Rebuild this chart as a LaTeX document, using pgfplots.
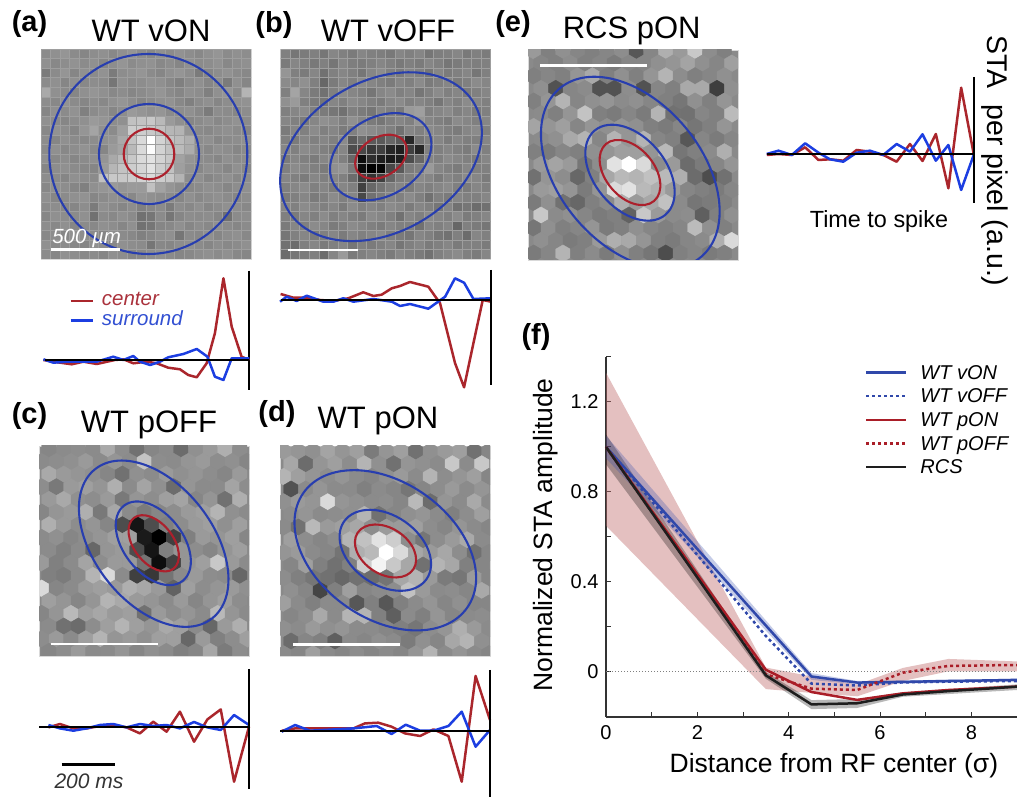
\documentclass[border=0pt]{standalone}
\usepackage{fontspec}
\setmainfont{Liberation Sans}
\usepackage{pgfplots}
\pgfplotsset{compat=1.18}
\newcommand\fs[1]{\fontsize{#1}{#1}\selectfont}
\definecolor{tred}{RGB}{170,38,44}
\definecolor{tblue}{RGB}{28,62,225}
\definecolor{eblue}{RGB}{40,62,175}
\definecolor{ered}{RGB}{172,32,44}
\definecolor{gridc}{RGB}{158,158,158}
\definecolor{band}{RGB}{190,105,105}
\definecolor{lblue}{RGB}{48,72,170}
\definecolor{lred}{RGB}{170,30,40}
\definecolor{lblack}{RGB}{30,30,30}
\definecolor{panelbg}{RGB}{138,138,138}
\pgfdeclareplotmark{hexa}{%
\pgfpathmoveto{\pgfqpoint{0pt}{8.47pt}}\pgfpathlineto{\pgfqpoint{7.33pt}{4.23pt}}%
\pgfpathlineto{\pgfqpoint{7.33pt}{-4.23pt}}\pgfpathlineto{\pgfqpoint{0pt}{-8.47pt}}%
\pgfpathlineto{\pgfqpoint{-7.33pt}{-4.23pt}}\pgfpathlineto{\pgfqpoint{-7.33pt}{4.23pt}}%
\pgfpathclose\pgfusepathqfillstroke}
\pgfdeclareplotmark{cell}{%
\pgfpathrectangle{\pgfqpoint{-4.773pt}{-4.773pt}}{\pgfqpoint{9.545pt}{9.545pt}}\pgfusepathqfillstroke}
\pgfplotsset{
 imgpanel/.style={anchor=north west,scale only axis,width=210pt,height=210pt,ticks=none,
   y dir=reverse,axis line style={draw=gray!30,line width=0.6pt},clip marker paths=true,
   axis background/.style={fill=panelbg},
   colormap={gr}{gray(0)=(0); gray(100)=(1)},point meta min=0,point meta max=100},
 trace/.style={anchor=origin,x=0.2667pt,y=1pt,hide axis,clip=false,xmin=-800,xmax=0,ymin=-90,ymax=90},
 tr/.style={tred,line width=2.5pt,line join=round},
 tb/.style={tblue,line width=2.5pt,line join=round},
 tk/.style={black,line width=2pt},
}
\newcommand\gridtable[1]{\addplot[scatter,only marks,mark=cell,point meta=explicit,line width=0.3pt,
  scatter/use mapped color={draw=gridc,fill=mapped color}]
  table[row sep=crcr,header=false,x expr={\coordindex-22*floor((\coordindex+0.5)/22)},y expr={floor((\coordindex+0.5)/22)},meta index=0]{#1};}
\newcommand\hextable[3]{\addplot[scatter,only marks,mark=hexa,point meta=explicit,line width=0.3pt,
  scatter/use mapped color={draw=mapped color,fill=mapped color}]
  table[row sep=crcr,header=false,x expr={#1+44*(\coordindex-16*floor((\coordindex+0.5)/16))+22*(floor((\coordindex+0.5)/16)-2*floor((\coordindex+0.5)/32))},
  y expr={#2+38*floor((\coordindex+0.5)/16)},meta index=0]{#3};}
\begin{document}
\begin{tikzpicture}
\path[use as bounding box] (0pt,0pt) rectangle (1017pt,797pt);
% panel a image
\begin{axis}[imgpanel,at={(41pt,748pt)},xmin=-0.5,xmax=21.5,ymin=-0.5,ymax=21.5]
\gridtable{
54\\56\\58\\54\\52\\55\\56\\53\\56\\58\\55\\53\\56\\54\\57\\55\\53\\56\\58\\54\\56\\55\\
56\\53\\55\\57\\54\\56\\52\\55\\58\\54\\56\\57\\53\\55\\52\\56\\54\\55\\57\\53\\55\\56\\
48\\54\\58\\52\\56\\54\\57\\48\\55\\56\\58\\54\\52\\56\\58\\55\\48\\52\\55\\57\\54\\53\\
54\\56\\52\\56\\53\\55\\54\\46\\56\\54\\55\\57\\56\\53\\50\\54\\56\\52\\55\\48\\56\\52\\
66\\56\\54\\52\\56\\58\\56\\53\\55\\52\\54\\56\\58\\54\\52\\56\\55\\50\\56\\58\\54\\70\\
55\\53\\57\\54\\52\\55\\53\\56\\58\\55\\52\\54\\56\\57\\53\\50\\54\\56\\52\\55\\56\\57\\
52\\56\\54\\57\\50\\54\\56\\52\\55\\60\\58\\56\\58\\54\\55\\56\\53\\48\\55\\54\\52\\55\\
56\\54\\52\\55\\56\\60\\58\\55\\56\\75\\76\\78\\72\\60\\56\\52\\54\\56\\53\\55\\57\\54\\
53\\57\\55\\52\\58\\64\\56\\54\\62\\80\\80\\78\\75\\71\\70\\58\\54\\53\\55\\56\\54\\52\\
55\\52\\56\\54\\53\\55\\56\\58\\66\\76\\85\\100\\82\\76\\73\\68\\55\\56\\52\\54\\55\\56\\
54\\56\\53\\55\\57\\54\\52\\60\\64\\72\\85\\98\\82\\76\\73\\67\\56\\53\\56\\55\\52\\54\\
56\\53\\55\\52\\54\\56\\58\\66\\72\\78\\85\\88\\82\\78\\63\\58\\55\\54\\52\\56\\54\\55\\
52\\55\\56\\54\\53\\52\\60\\71\\76\\80\\83\\88\\80\\75\\62\\57\\53\\56\\55\\52\\56\\53\\
55\\54\\52\\56\\55\\54\\75\\78\\78\\80\\82\\85\\80\\78\\70\\55\\56\\52\\54\\56\\53\\55\\
53\\56\\55\\52\\50\\56\\58\\60\\58\\60\\60\\75\\63\\58\\55\\53\\54\\56\\55\\52\\55\\56\\
56\\52\\54\\56\\57\\52\\54\\56\\55\\53\\58\\56\\55\\54\\52\\56\\53\\55\\56\\54\\52\\55\\
54\\55\\53\\52\\55\\48\\56\\54\\52\\55\\50\\52\\54\\48\\55\\53\\56\\52\\54\\56\\55\\53\\
52\\56\\55\\54\\56\\44\\54\\53\\56\\54\\44\\46\\54\\46\\52\\55\\54\\55\\52\\44\\54\\55\\
55\\53\\56\\52\\54\\53\\56\\55\\52\\56\\44\\46\\52\\53\\56\\52\\55\\53\\56\\54\\52\\54\\
53\\55\\52\\56\\55\\54\\52\\56\\54\\53\\50\\52\\55\\56\\46\\54\\53\\56\\52\\55\\56\\53\\
56\\54\\55\\53\\52\\56\\55\\53\\56\\55\\54\\46\\53\\52\\55\\56\\54\\52\\55\\53\\54\\56\\
54\\52\\56\\55\\53\\54\\52\\56\\55\\52\\53\\55\\56\\54\\52\\53\\55\\56\\54\\56\\53\\52\\
}
\end{axis}
% panel b image
\begin{axis}[imgpanel,at={(280.5pt,748pt)},xmin=-0.5,xmax=21.5,ymin=-0.5,ymax=21.5]
\gridtable{
50\\46\\48\\50\\46\\52\\50\\48\\52\\50\\49\\47\\52\\50\\52\\46\\49\\50\\52\\47\\50\\48\\
48\\52\\50\\47\\50\\46\\52\\49\\48\\50\\52\\50\\47\\50\\48\\52\\50\\46\\48\\50\\49\\50\\
58\\50\\48\\52\\44\\50\\52\\50\\46\\52\\55\\50\\48\\52\\50\\46\\52\\48\\50\\52\\46\\50\\
54\\52\\56\\50\\40\\48\\52\\50\\54\\52\\50\\48\\52\\50\\54\\48\\50\\52\\48\\50\\54\\52\\
50\\64\\52\\48\\44\\50\\54\\52\\50\\46\\52\\54\\50\\52\\46\\50\\54\\50\\52\\48\\50\\52\\
56\\60\\50\\48\\46\\52\\50\\54\\52\\50\\48\\52\\54\\50\\52\\50\\46\\52\\50\\54\\52\\50\\
50\\52\\54\\50\\48\\46\\44\\50\\48\\46\\52\\50\\48\\60\\62\\50\\52\\54\\50\\52\\48\\50\\
52\\50\\48\\52\\56\\54\\50\\56\\52\\48\\46\\50\\52\\50\\58\\52\\50\\48\\54\\52\\50\\52\\
48\\52\\50\\54\\50\\52\\48\\50\\56\\54\\52\\50\\44\\52\\50\\54\\52\\50\\48\\52\\54\\50\\
50\\48\\52\\50\\52\\50\\54\\35\\42\\35\\35\\40\\35\\15\\45\\50\\52\\48\\52\\50\\50\\52\\
52\\50\\54\\52\\50\\48\\52\\30\\28\\22\\25\\15\\12\\25\\15\\50\\50\\52\\50\\48\\54\\50\\
48\\52\\50\\48\\52\\54\\50\\40\\5\\18\\12\\10\\12\\30\\40\\52\\50\\54\\52\\50\\48\\52\\
50\\54\\52\\50\\48\\56\\58\\48\\5\\0\\2\\28\\35\\48\\50\\60\\52\\50\\48\\52\\50\\50\\
52\\50\\48\\52\\50\\52\\50\\42\\25\\20\\25\\40\\48\\50\\54\\52\\48\\52\\50\\54\\52\\48\\
50\\52\\54\\50\\52\\48\\52\\50\\25\\40\\45\\50\\52\\48\\52\\50\\52\\54\\50\\48\\52\\50\\
48\\50\\52\\48\\50\\54\\50\\52\\28\\44\\48\\52\\50\\54\\50\\44\\50\\48\\52\\50\\50\\52\\
52\\50\\54\\52\\50\\52\\48\\54\\50\\52\\50\\54\\52\\48\\52\\50\\46\\52\\44\\46\\42\\44\\
50\\48\\52\\50\\54\\50\\52\\50\\48\\54\\52\\50\\44\\52\\50\\54\\52\\50\\54\\48\\50\\52\\
48\\52\\50\\54\\52\\48\\50\\54\\52\\50\\48\\52\\50\\50\\44\\52\\50\\52\\40\\50\\48\\46\\
46\\50\\52\\48\\50\\52\\48\\52\\50\\52\\54\\50\\48\\46\\52\\50\\46\\44\\50\\42\\52\\50\\
44\\42\\50\\52\\48\\50\\52\\46\\50\\48\\50\\52\\46\\50\\52\\48\\50\\52\\48\\50\\50\\48\\
42\\46\\48\\50\\42\\52\\60\\48\\50\\52\\50\\48\\52\\50\\48\\44\\50\\52\\54\\50\\48\\52\\
}
\end{axis}
% panel c image
\begin{axis}[imgpanel,at={(39pt,351pt)},xmin=3,xmax=633,ymin=3,ymax=633]
\hextable{-11}{12}{
52\\52\\54\\55\\54\\66\\55\\44\\52\\54\\42\\56\\60\\68\\55\\58\\
54\\55\\56\\60\\54\\58\\54\\76\\55\\54\\58\\60\\55\\56\\52\\52\\
62\\66\\60\\58\\56\\52\\44\\56\\54\\60\\56\\58\\55\\52\\60\\54\\
55\\47\\60\\62\\58\\68\\54\\64\\56\\42\\58\\54\\54\\64\\55\\52\\
50\\60\\66\\56\\55\\60\\47\\58\\55\\62\\64\\52\\58\\44\\68\\52\\
52\\58\\60\\68\\47\\65\\54\\48\\52\\55\\60\\62\\70\\56\\54\\50\\
56\\68\\60\\55\\58\\52\\30\\8\\30\\50\\55\\60\\62\\56\\62\\52\\
54\\56\\52\\55\\58\\62\\62\\10\\0\\25\\50\\60\\58\\62\\52\\52\\
52\\54\\50\\54\\40\\58\\60\\30\\8\\50\\58\\55\\52\\58\\62\\55\\
60\\50\\54\\64\\55\\60\\60\\45\\5\\25\\58\\62\\78\\60\\54\\52\\
47\\50\\48\\54\\70\\85\\54\\25\\22\\45\\54\\60\\55\\54\\40\\55\\
85\\52\\54\\60\\62\\60\\68\\65\\60\\38\\62\\55\\58\\60\\56\\52\\
54\\62\\58\\52\\58\\70\\66\\60\\58\\54\\60\\52\\58\\62\\55\\52\\
52\\58\\72\\62\\65\\60\\62\\44\\60\\55\\58\\54\\72\\58\\54\\52\\
52\\54\\44\\42\\55\\62\\70\\62\\58\\66\\62\\54\\40\\60\\68\\54\\
55\\60\\54\\62\\70\\58\\60\\56\\62\\62\\40\\60\\50\\55\\62\\52\\
44\\52\\55\\60\\54\\54\\58\\52\\56\\54\\50\\52\\65\\48\\55\\52\\
}
\end{axis}
% panel d image
\begin{axis}[imgpanel,at={(280pt,351pt)},xmin=3,xmax=633,ymin=3,ymax=633]
\hextable{-30}{19}{
52\\60\\58\\56\\64\\58\\62\\48\\58\\62\\44\\56\\60\\62\\44\\52\\
54\\65\\42\\58\\62\\55\\70\\56\\44\\58\\56\\54\\78\\54\\78\\52\\
60\\70\\62\\58\\55\\58\\54\\52\\56\\60\\54\\70\\55\\58\\62\\52\\
52\\32\\54\\58\\54\\54\\50\\54\\52\\46\\52\\55\\60\\54\\58\\52\\
54\\56\\60\\58\\85\\58\\56\\54\\55\\52\\72\\42\\58\\54\\66\\54\\
44\\55\\58\\54\\55\\56\\70\\44\\52\\56\\58\\54\\50\\55\\62\\52\\
50\\54\\44\\72\\60\\62\\65\\55\\60\\60\\62\\55\\52\\58\\54\\52\\
54\\62\\55\\52\\55\\70\\75\\88\\80\\55\\46\\55\\60\\66\\54\\52\\
46\\58\\60\\54\\52\\45\\68\\72\\100\\85\\65\\60\\65\\55\\44\\52\\
44\\52\\62\\50\\44\\50\\80\\95\\78\\65\\44\\70\\65\\50\\52\\52\\
50\\55\\50\\46\\44\\40\\44\\42\\45\\65\\70\\60\\48\\46\\60\\52\\
54\\56\\52\\27\\50\\62\\52\\54\\55\\75\\60\\54\\55\\52\\66\\52\\
55\\62\\54\\50\\54\\54\\34\\50\\34\\50\\54\\58\\52\\56\\52\\52\\
58\\52\\55\\66\\54\\70\\70\\50\\37\\54\\50\\58\\52\\54\\55\\52\\
52\\56\\54\\60\\56\\58\\54\\54\\52\\50\\46\\55\\58\\68\\60\\54\\
55\\42\\52\\50\\37\\54\\52\\56\\54\\48\\56\\52\\65\\70\\56\\52\\
48\\54\\52\\62\\54\\52\\55\\52\\54\\52\\58\\70\\54\\58\\54\\52\\
}
\end{axis}
% panel e image
\begin{axis}[imgpanel,at={(528pt,747pt)},xmin=3,xmax=633,ymin=3,ymax=633]
\hextable{-24}{5}{
60\\60\\50\\56\\52\\50\\52\\55\\34\\52\\68\\60\\78\\55\\50\\50\\
70\\52\\50\\55\\50\\52\\48\\52\\52\\56\\58\\64\\56\\52\\62\\50\\
48\\50\\52\\50\\58\\66\\50\\56\\50\\58\\70\\55\\50\\52\\56\\50\\
50\\56\\32\\52\\54\\32\\32\\55\\32\\52\\50\\66\\66\\24\\56\\50\\
52\\50\\58\\70\\52\\56\\58\\54\\56\\52\\50\\46\\56\\50\\58\\52\\
50\\54\\50\\58\\76\\50\\48\\52\\48\\70\\44\\44\\52\\50\\73\\50\\
70\\64\\58\\62\\52\\58\\56\\58\\56\\50\\48\\52\\46\\50\\58\\52\\
64\\54\\56\\66\\70\\52\\70\\58\\70\\52\\50\\34\\52\\48\\52\\50\\
46\\50\\48\\52\\50\\56\\58\\62\\62\\58\\72\\46\\50\\54\\68\\52\\
55\\60\\64\\60\\46\\55\\88\\100\\85\\55\\60\\42\\48\\52\\58\\50\\
46\\44\\58\\55\\40\\50\\65\\72\\70\\75\\72\\68\\42\\30\\44\\50\\
56\\60\\62\\58\\48\\58\\85\\88\\72\\68\\60\\52\\50\\48\\52\\50\\
50\\48\\56\\44\\40\\50\\54\\68\\60\\65\\75\\54\\46\\48\\50\\52\\
58\\78\\54\\56\\52\\48\\50\\38\\78\\60\\54\\55\\37\\50\\56\\50\\
52\\46\\56\\50\\52\\58\\48\\50\\56\\52\\50\\52\\73\\56\\50\\50\\
50\\56\\52\\48\\50\\60\\68\\66\\58\\50\\48\\52\\54\\68\\85\\50\\
50\\48\\52\\70\\50\\54\\48\\56\\50\\46\\30\\50\\52\\48\\50\\50\\
}
\end{axis}
% traces a
\begin{axis}[trace,at={(249.3pt,437pt)}]
\addplot[tk] coordinates {(0,89.3)(0,-30)};
\addplot[tr] coordinates {(-772,0)(-735,-1.7)(-666,-4.3)(-622,-1.7)(-572,-4)(-504,0)(-472,.7)(-435,-3.3)(-385,-1.7)(-347,-3.3)(-304,-7.7)(-260,-9.3)(-229,-15)(-197,-17.3)(-160,-3.3)(-129,26.7)(-97,81.7)(-66,33.3)(-29,3.3)(0,0)};
\addplot[tb] coordinates {(-772,.7)(-735,-2.7)(-685,-1.7)(-572,-1.7)(-510,3.3)(-472,0)(-435,4)(-410,-1.7)(-372,-5)(-335,-1.7)(-304,2.7)(-247,6)(-197,11)(-157,3.3)(-129,-16.7)(-97,-20)(-66,1.7)(0,1.7)};
\addplot[tk] coordinates {(-765,0)(0,0)};
\end{axis}
% traces b
\begin{axis}[trace,at={(491pt,497pt)}]
\addplot[tr] coordinates {(-789,6)(-741,2.3)(-691,2.3)(-641,0)(-591,-1)(-535,1.7)(-479,7.7)(-441,4)(-410,5.3)(-372,11.7)(-341,14)(-304,18)(-235,13.3)(-191,-3.3)(-135,-63)(-101,-87.3)(-66,-43.3)(-31,0)(0,-1.7)};
\addplot[tb] coordinates {(-791,-1.7)(-766,3.3)(-729,-1)(-691,4.3)(-629,-1.7)(-591,-1.7)(-554,1.7)(-516,-1.7)(-441,1)(-372,-1.7)(-341,-6)(-304,-4)(-235,-8.7)(-172,3.3)(-135,21.7)(-101,17.3)(-66,1)(0,1.7)};
\addplot[tk] coordinates {(-789,0)(0,0)};
\addplot[tk] coordinates {(0,30)(0,-85)};
\end{axis}
% traces c
\begin{axis}[trace,at={(249pt,70.3pt)}]
\addplot[tr] coordinates {(-752,-.7)(-709,2.7)(-659,-1.7)(-609,-1.7)(-559,.7)(-509,1.7)(-459,-.7)(-409,-6.7)(-359,5)(-309,-5)(-259,15)(-206,-15)(-156,7.3)(-106,17.3)(-56,-55)(0,0)};
\addplot[tb] coordinates {(-752,1.7)(-709,-1.7)(-659,-4)(-609,-1.7)(-559,1.7)(-509,2.7)(-459,-.7)(-409,2.7)(-359,.7)(-309,1.7)(-259,-1.7)(-206,4.7)(-156,-.7)(-106,-3.3)(-56,11.7)(0,1.7)};
\addplot[tk] coordinates {(-787,0)(0,0)};
\addplot[tk] coordinates {(0,57.7)(0,-62.3)};
\end{axis}
% traces d
\begin{axis}[trace,at={(490pt,66.3pt)}]
\addplot[tr] coordinates {(-781,0)(-731,2.3)(-675,2.3)(-512,2.3)(-469,7.3)(-419,8)(-369,4)(-319,-2.7)(-262,-5.3)(-212,1.3)(-156,-5.3)(-106,-51)(-54,54.7)(0,10.7)};
\addplot[tb] coordinates {(-781,-1)(-731,5.7)(-675,0)(-512,2.3)(-425,4.7)(-369,-3.3)(-316,6)(-262,0)(-212,0)(-156,4.7)(-106,19)(-54,-16)(0,.7)};
\addplot[tk] coordinates {(-787,0)(0,0)};
\addplot[tk] coordinates {(0,60.7)(0,-66.3)};
\end{axis}
% traces e
\begin{axis}[trace,at={(973.7pt,643pt)}]
\addplot[tr] coordinates {(-776,-1)(-732,0)(-682,-1)(-632,6.7)(-582,-6)(-539,-5.3)(-489,-6.7)(-439,4)(-389,2.3)(-339,-1)(-289,-7.7)(-239,10)(-192,-7)(-142,20)(-95,-34.3)(-47,66.3)(0,0)};
\addplot[tb] coordinates {(-776,0)(-732,3.3)(-682,-1)(-632,10.7)(-582,1.3)(-539,-5.3)(-489,-7.7)(-439,1.3)(-389,3.3)(-339,-1)(-289,10)(-239,2.3)(-192,19.7)(-142,-6.7)(-95,9)(-47,-36)(0,-1)};
\addplot[tk] coordinates {(-775,0)(0,0)};
\addplot[tk] coordinates {(0,77)(0,-49)};
\end{axis}
% panel f
\begin{axis}[at={(606pt,80pt)},anchor=south west,scale only axis,width=411pt,height=360pt,
  xmin=0,xmax=9,ymin=-0.2,ymax=1.4,clip=false,
  axis x line*=bottom,axis y line*=left,axis line style={-,draw=black!80,line width=1.2pt},
  tick align=inside,major tick length=5pt,tick style={draw=black!80,line width=1pt},
  xtick={0,1,...,9},xticklabels={0,,2,,4,,6,,8,},
  ytick={-0.2,0,0.2,0.4,0.6,0.8,1.0,1.2,1.4},yticklabels={,0,,0.4,,0.8,,1.2,},
  tick label style={font=\fs{20}},
  xticklabel style={yshift=-5pt},yticklabel style={xshift=-4pt},
  every axis x label/.style={at={(axis cs:4.99,-0.2)},anchor=center,yshift=-49pt},
  every axis y label/.style={at={(axis description cs:-0.146,0.506)},anchor=center,rotate=90},
  xlabel={\fs{26.5}Distance from RF center (σ)},
  ylabel={\fs{26.5}Normalized STA amplitude},
  legend cell align=left,
  legend style={at={(axis description cs:0.6302,0.981)},anchor=north west,draw=none,fill=none,
    font=\fs{20}\itshape,row sep=0pt,inner sep=0pt,
    nodes={inner xsep=0pt,inner ysep=0pt,text height=15pt,text depth=8.7pt},
    /tikz/column 2/.style={column sep=0pt}},
  legend image code/.code={\draw[#1] (0pt,0.35em) -- (40pt,0.35em);\path[draw=none] (0pt,0pt) -- (54pt,0pt);},
]
\addplot[draw=none,fill=band,fill opacity=0.42,forget plot] coordinates {(0,1.33)(3.5,0.02)(4.5,-0.02)(5.5,-0.056)(6.5,0.018)(7.5,0.058)(9,0.047)(9,0.003)(7.5,0.003)(6.5,-0.04)(5.5,-0.108)(4.5,-0.093)(3.5,-0.076)(0,0.65)};
\addplot[draw=none,fill=black,fill opacity=0.28,forget plot] coordinates {(0,1.056)(3.5,0.0)(4.5,-0.125)(5.5,-0.12)(6.5,-0.09)(9,-0.055)(9,-0.08)(6.5,-0.11)(5.5,-0.16)(4.5,-0.165)(3.5,-0.03)(0,0.923)};
\addplot[draw=none,fill=lblue,fill opacity=0.28,forget plot] coordinates {(0,1.05)(4.5,-0.005)(5.5,-0.04)(9,-0.03)(9,-0.042)(5.5,-0.055)(4.5,-0.035)(0,0.95)};
\addplot[gray,dotted,line width=1pt,forget plot] coordinates {(0,0)(9,0)};
\addplot[lblue,line width=2.5pt] coordinates {(0,1.0)(4.5,-0.02)(5.5,-0.047)(6.5,-0.044)(7.5,-0.04)(8.5,-0.037)(9,-0.035)};
\addlegendentry{WT vON}
\addplot[lblue,line width=2.5pt,dash pattern=on 3pt off 3pt] coordinates {(0,1.0)(3.5,0.16)(4.5,-0.052)(5.5,-0.06)(6.5,-0.046)(7.5,-0.043)(9,-0.04)};
\addlegendentry{WT vOFF}
\addplot[lred,line width=2.5pt] coordinates {(0,1.0)(3.5,0.01)(4.5,-0.089)(5.5,-0.124)(6.5,-0.095)(7.5,-0.08)(8.5,-0.07)(9,-0.065)};
\addlegendentry{WT pON}
\addplot[lred,line width=2.5pt,dash pattern=on 3pt off 3pt] coordinates {(0,1.0)(3.5,-0.01)(4.5,-0.074)(5.5,-0.08)(6.5,-0.003)(7.5,0.027)(8.5,0.03)(9,0.03)};
\addlegendentry{WT pOFF}
\addplot[lblack,line width=2.5pt] coordinates {(0,1.0)(3.5,-0.015)(4.5,-0.144)(5.5,-0.139)(6.5,-0.1)(7.5,-0.085)(8.5,-0.072)(9,-0.065)};
\addlegendentry{RCS}
\end{axis}
% annotations in reference pixel coordinates
\begin{scope}[x=1pt,y=-1pt,yshift=797pt]
\node[font=\fs{31},anchor=base] at (151,41.7) {WT vON};
\node[font=\fs{31},anchor=base] at (388,41.7) {WT vOFF};
\node[font=\fs{31},anchor=base] at (149,433) {WT pOFF};
\node[font=\fs{31},anchor=base] at (378,428.3) {WT pON};
\node[font=\fs{31},anchor=base] at (631.7,38.3) {RCS pON};
\node[font=\fs{29}\bfseries,anchor=base] at (29.5,32) {(a)};
\node[font=\fs{29}\bfseries,anchor=base] at (274,33) {(b)};
\node[font=\fs{29}\bfseries,anchor=base] at (29.5,424) {(c)};
\node[font=\fs{29}\bfseries,anchor=base] at (277,422) {(d)};
\node[font=\fs{29}\bfseries,anchor=base] at (513,32) {(e)};
\node[font=\fs{29}\bfseries,anchor=base] at (536,345) {(f)};
% ellipses
\begin{scope}[line width=2.1pt]
\draw[eblue] (148.3,154) ellipse [x radius=99pt,y radius=100pt];
\draw[eblue] (149,154) ellipse [x radius=50pt,y radius=50pt];
\draw[ered] (149,154) ellipse [x radius=25.3pt,y radius=25.3pt];
\draw[eblue] (381,156.7) ellipse [x radius=107.3pt,y radius=76pt,rotate=29];
\draw[eblue] (380.7,156.7) ellipse [x radius=54.3pt,y radius=39pt,rotate=31];
\draw[ered] (381,156.7) ellipse [x radius=27.8pt,y radius=19.5pt,rotate=31];
\draw[eblue] (153.7,543.7) ellipse [x radius=94.8pt,y radius=59.3pt,rotate=-52];
\draw[eblue] (153.3,543.3) ellipse [x radius=47.7pt,y radius=29.7pt,rotate=-52];
\draw[ered] (153.7,543.3) ellipse [x radius=32.2pt,y radius=19.7pt,rotate=-52];
\draw[eblue] (385.3,550.3) ellipse [x radius=100pt,y radius=68.3pt,rotate=-35];
\draw[eblue] (385.3,550.3) ellipse [x radius=50.3pt,y radius=34.7pt,rotate=-35];
\draw[ered] (385.5,551) ellipse [x radius=33.3pt,y radius=23pt,rotate=-33];
\begin{scope}
\clip (528,50) rectangle (738,260);
\draw[eblue] (630.3,172.7) ellipse [x radius=110pt,y radius=71.3pt,rotate=-50];
\end{scope}
\draw[eblue] (630,172.7) ellipse [x radius=55pt,y radius=35.7pt,rotate=-50];
\draw[ered] (630,172.5) ellipse [x radius=37.3pt,y radius=24.3pt,rotate=-50];
\end{scope}
% scale bars
\draw[white,line width=2.4pt] (51,249.7) -- (120,249.7);
\node[white,font=\fs{20.5}\itshape,anchor=base] at (86.7,244) {500 µm};
\draw[white,line width=2.4pt] (288.3,250) -- (357.7,250);
\draw[white,line width=2.4pt] (51.3,644.3) -- (158,644.3);
\draw[white,line width=2.4pt] (293,644.7) -- (399.7,644.7);
\draw[white,line width=2.4pt] (540.3,65.7) -- (647,65.7);
\draw[black,line width=3pt] (61.7,765) -- (115,765);
\node[black!80,font=\fs{21}\itshape,anchor=base] at (89,789) {200 ms};
% trace legend
\draw[tred,line width=2.5pt] (70.7,301) -- (92.7,301);
\draw[tblue,line width=2.5pt] (70.7,320.7) -- (92.7,320.7);
\node[font=\fs{20.5}\itshape,text={rgb,255:red,170;green,50;blue,60},anchor=base west,inner sep=0pt] at (101.7,306) {center};
\node[font=\fs{20.5}\itshape,text={rgb,255:red,50;green,80;blue,210},anchor=base west,inner sep=0pt] at (101.7,326) {surround};
\node[font=\fs{23.4},anchor=base] at (879,228) {Time to spike};
\node[font=\fs{28.5},rotate=-90,anchor=base west,inner sep=0pt] at (987,35) {STA\ \ per pixel (a.u.)};
\end{scope}
\end{tikzpicture}
\end{document}
